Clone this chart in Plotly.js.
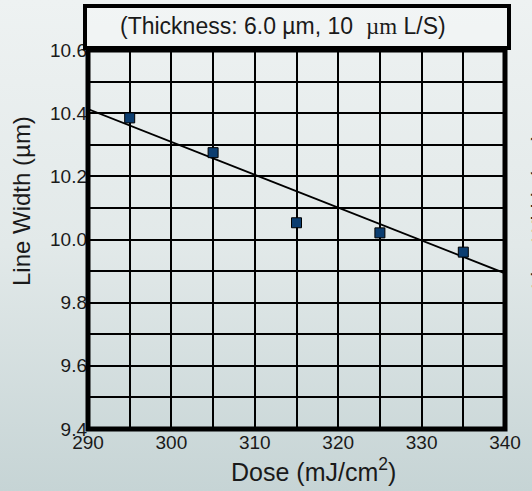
<!DOCTYPE html>
<html>
<head>
<meta charset="utf-8">
<script src="https://cdn.plot.ly/plotly-3.0.1.min.js"></script>
<style>
  html, body { margin:0; padding:0; }
  body { width:532px; height:491px; background: linear-gradient(to bottom, rgb(238,242,242) 0%, rgb(226,233,233) 50%, rgb(198,212,213) 100%); overflow:hidden; }
  #chart { width:532px; height:491px; }
</style>
</head>
<body>
<div id="chart"></div>
<script>
// Data
const doseValues = [295, 305, 315, 325, 335];
const lineWidthValues = [10.385, 10.275, 10.053, 10.021, 9.960];
// Fitted trend line endpoints
const fitDose = [290, 340];
const fitWidth = [10.413, 9.893];
const xTickValues = [290, 300, 310, 320, 330, 340];
const yTickValues = [9.4, 9.6, 9.8, 10.0, 10.2, 10.4, 10.6];

const font = 'Liberation Sans, Arial, sans-serif';

const traces = [
  {
    x: fitDose, y: fitWidth, mode: 'lines', type: 'scatter',
    line: {color: '#000', width: 1.8}, hoverinfo: 'skip', showlegend: false
  },
  {
    x: doseValues, y: lineWidthValues, mode: 'markers', type: 'scatter',
    marker: {symbol: 'square', size: 10, color: '#0b3d70', line: {color: '#000', width: 1}},
    showlegend: false
  }
];

const layout = {
  width: 532, height: 491,
  margin: {l: 88, r: 27, t: 50, b: 62},
  paper_bgcolor: 'rgba(0,0,0,0)',
  plot_bgcolor: 'rgba(0,0,0,0)',
  font: {family: font, color: '#1a1a1a', size: 19},
  showlegend: false,
  xaxis: {
    range: [290, 340], tickvals: xTickValues, ticktext: xTickValues.map(String),
    showgrid: true, gridcolor: '#000', gridwidth: 2,
    minor: {dtick: 5, tick0: 290, showgrid: true, gridcolor: '#000', gridwidth: 2},
    zeroline: false, showline: false, ticks: '',
    tickfont: {family: font, size: 19, color: '#1a1a1a'}
  },
  yaxis: {
    range: [9.4, 10.6], tickvals: yTickValues, ticktext: yTickValues.map(v => v.toFixed(1)),
    showgrid: true, gridcolor: '#000', gridwidth: 2,
    minor: {dtick: 0.1, tick0: 9.4, showgrid: true, gridcolor: '#000', gridwidth: 2},
    zeroline: false, showline: false, ticks: '',
    tickfont: {family: font, size: 19, color: '#1a1a1a'}
  },
  shapes: [
    {type: 'rect', xref: 'paper', yref: 'paper', x0: 0, x1: 1, y0: 0, y1: 1,
     line: {color: '#000', width: 5}, fillcolor: 'rgba(0,0,0,0)', layer: 'above'},
    {type: 'rect', xref: 'paper', yref: 'paper',
     x0: -3/417, x1: 421/417, y0: 1 + 2/379, y1: 1 + 44/379,
     line: {color: '#000', width: 4}, fillcolor: 'rgba(255,255,255,0.25)', layer: 'above'}
  ],
  annotations: [
    {xref: 'paper', yref: 'paper', x: 195/417, y: 1 + 24/379, xanchor: 'center', yanchor: 'middle',
     showarrow: false, font: {family: font, size: 23, color: '#1a1a1a'},
     text: '(Thickness: 6.0 µm, 10  <span style="font-family:\'Liberation Serif\', serif">µm</span> L/S)'},
    {xref: 'paper', yref: 'paper', x: 225/417, y: -41/379, xanchor: 'center', yanchor: 'middle',
     showarrow: false, font: {family: font, size: 25, color: '#1a1a1a'},
     text: 'Dose (mJ/cm<sup>2</sup>)'},
    {xref: 'paper', yref: 'paper', x: -66/417, y: (429-201)/379, xanchor: 'center', yanchor: 'middle',
     showarrow: false, textangle: -90, font: {family: font, size: 24, color: '#1a1a1a'},
     text: 'Line Width (µm)'},
    {xref: 'paper', yref: 'paper', x: 451/417, y: (429-211)/379, xanchor: 'center', yanchor: 'middle',
     showarrow: false, textangle: -90, font: {family: font, size: 22, color: '#1a1a1a'},
     text: 'Line Width (µm)'}
  ]
};

Plotly.newPlot('chart', traces, layout, {displayModeBar: false, staticPlot: true});
</script>
</body>
</html>
